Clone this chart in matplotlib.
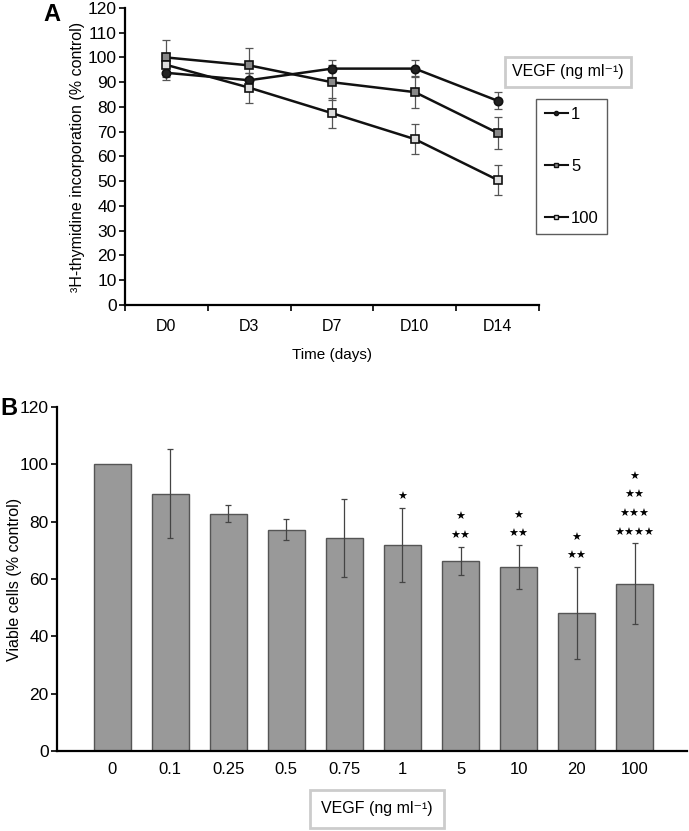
import matplotlib
matplotlib.use("Agg")
import matplotlib.pyplot as plt
from matplotlib.lines import Line2D

plt.rcParams['font.family'] = ['Liberation Sans', 'DejaVu Sans']
plt.rcParams['font.size'] = 11

# Panel A: 3H-thymidine incorporation over time
days = ["D0", "D3", "D7", "D10", "D14"]
vegf_1 = [93.8, 90.8, 95.5, 95.5, 82.5]
vegf_1_err = [3.0, 3.0, 3.5, 3.5, 3.5]
vegf_5 = [100.0, 96.8, 90.0, 86.0, 69.5]
vegf_5_err = [7.0, 7.0, 7.0, 6.5, 6.5]
vegf_100 = [97.0, 87.8, 77.5, 67.0, 50.5]
vegf_100_err = [5.0, 6.0, 6.0, 6.0, 6.0]
series_labels = ["1", "5", "100"]

# Panel B: viable cells vs VEGF dose
doses = ["0", "0.1", "0.25", "0.5", "0.75", "1", "5", "10", "20", "100"]
viable = [100.0, 89.8, 82.8, 77.2, 74.3, 71.8, 66.3, 64.2, 48.2, 58.4]
viable_err = [0.0, 15.6, 3.0, 3.7, 13.5, 13.0, 5.0, 7.7, 16.0, 14.0]
signif = [[], [], [], [], [], ["*"], ["*", "**"], ["*", "**"], ["*", "**"],
          ["*", "**", "***", "****"]]

fig = plt.figure(figsize=(6.89, 8.31), dpi=100)

# ---------- Panel A ----------
axA = fig.add_axes([0.1814, 0.633, 0.601, 0.3574])
x = list(range(len(days)))
styles = [dict(marker="o", mfc="#222222", ms=6),
          dict(marker="s", mfc="#888888", ms=6),
          dict(marker="s", mfc="#dddddd", ms=6)]
handles = []
for vals, errs, st, lab in zip([vegf_1, vegf_5, vegf_100],
                               [vegf_1_err, vegf_5_err, vegf_100_err],
                               styles, series_labels):
    axA.errorbar(x, vals, yerr=errs, fmt="none", ecolor="#555555",
                 elinewidth=0.9, capsize=3, capthick=0.9, zorder=2)
    axA.plot(x, vals, color="#111111", lw=1.8, mec="#111111", mew=1.2,
             zorder=3, **st)
    handles.append(Line2D([], [], color="#111111", lw=1.5, marker=st["marker"],
                          ms=3, mfc=st["mfc"], mec="#111111", label=lab))

axA.set_xlim(-0.5, 4.5)
axA.set_ylim(0, 120)
axA.set_yticks(range(0, 121, 10))
axA.set_xticks(x)
axA.set_xticklabels(days)
axA.set_xticks([i + 0.5 for i in range(-1, 5)], minor=True)
axA.tick_params(axis="x", which="major", length=0, pad=10, labelsize=11.5)
axA.tick_params(axis="x", which="minor", length=4, direction="out", width=1.2)
axA.tick_params(axis="y", length=4, direction="out", width=1.2, labelsize=12.5,
                pad=2)
for s in ["top", "right"]:
    axA.spines[s].set_visible(False)
for s in ["left", "bottom"]:
    axA.spines[s].set_linewidth(1.6)
axA.set_ylabel("³H-thymidine incorporation (% control)", fontsize=11.5, labelpad=2)
axA.set_xlabel("Time (days)", fontsize=11, labelpad=10)

leg = axA.legend(handles=handles, loc="upper left",
                 bbox_to_anchor=(0.993, 0.694), borderaxespad=0, frameon=True,
                 fancybox=False, edgecolor="#333333", handlelength=1.4,
                 labelspacing=2.2, borderpad=0.5, handletextpad=0.2,
                 fontsize=12)
leg.get_frame().set_linewidth(1.0)
axA.text(1.07, 0.785, "VEGF (ng ml⁻¹)", transform=axA.transAxes, fontsize=11.5,
         ha="center", va="center",
         bbox=dict(boxstyle="square,pad=0.45", fc="white", ec="#cccccc", lw=2))
fig.text(0.063, 0.982, "A", fontsize=17, fontweight="bold", ha="left", va="center")

# ---------- Panel B ----------
axB = fig.add_axes([0.0827, 0.0963, 0.9144, 0.414])
xb = list(range(len(doses)))
axB.bar(xb, viable, width=0.64, color="#999999", edgecolor="#555555", lw=1.0,
        zorder=2)
axB.errorbar(xb[1:], viable[1:], yerr=viable_err[1:], fmt="none",
             ecolor="#444444", elinewidth=0.9, capsize=2, capthick=0.9, zorder=3)
for i, rows in enumerate(signif):
    top = viable[i] + viable_err[i]
    for k, r in enumerate(reversed(rows)):
        axB.annotate("★" * len(r), (xb[i], top), xytext=(0, 4 + k * 13.5),
                     textcoords="offset points", ha="center", va="bottom",
                     fontsize=8, family=["DejaVu Sans"])

axB.set_xlim(-0.95, 9.9)
axB.set_ylim(0, 120)
axB.set_yticks(range(0, 121, 20))
axB.set_xticks(xb)
axB.set_xticklabels(doses)
axB.tick_params(axis="x", length=0, pad=8, labelsize=12)
axB.tick_params(axis="y", length=4, direction="out", width=1.2, labelsize=12.5,
                pad=2)
for s in ["top", "right"]:
    axB.spines[s].set_visible(False)
for s in ["left", "bottom"]:
    axB.spines[s].set_linewidth(1.6)
axB.set_ylabel("Viable cells (% control)", fontsize=11.5)
axB.yaxis.set_label_coords(-0.056, 0.5)
fig.text(0.547, 0.0265, "VEGF (ng ml⁻¹)", fontsize=11.5, ha="center", va="center",
         bbox=dict(boxstyle="square,pad=0.7", fc="white", ec="#cccccc", lw=2))
fig.text(0.0, 0.508, "B", fontsize=17, fontweight="bold", ha="left", va="center")

fig.savefig("out.png", dpi=100)
